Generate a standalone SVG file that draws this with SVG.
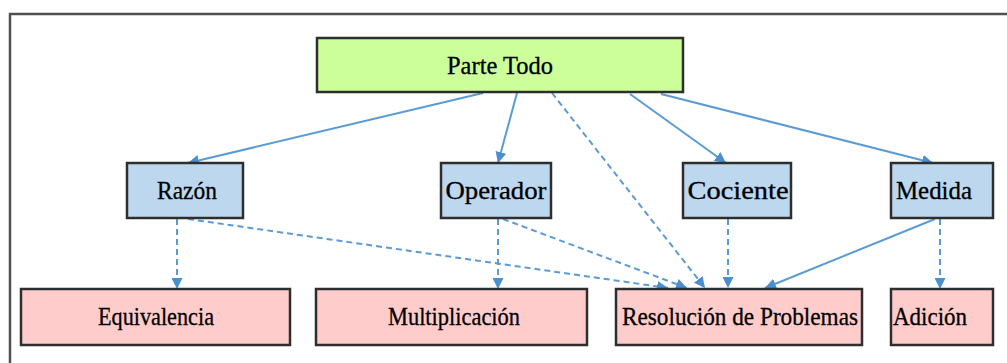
<svg xmlns="http://www.w3.org/2000/svg" width="1007" height="363" viewBox="0 0 1007 363">
  <style>
    .frame { fill: none; stroke: #505050; stroke-width: 2.5; }
    .box { stroke: #2e2e2e; stroke-width: 2.5; }
    .root { fill: #ccff99; }
    .mid { fill: #bdd7ee; }
    .leaf { fill: #ffcccc; }
    .lbl { font-family: 'Liberation Serif', 'Times New Roman', Times, serif; font-size: 25px; fill: #000000; stroke: #000000; stroke-width: 0.3; text-anchor: middle; }
    .edge { fill: none; stroke: #5b9bd5; stroke-width: 2; }
    .dash { stroke-dasharray: 6 4; }
  </style>
  <defs>
    <marker id="arrow" viewBox="0 0 10 10" refX="10" refY="5" markerWidth="11" markerHeight="11" markerUnits="userSpaceOnUse" orient="auto">
      <path d="M0,0 L10,5 L0,10 Z" fill="#4a8fd0"/>
    </marker>
  </defs>

  <!-- outer frame -->
  <rect class="frame" x="10" y="14" width="1010" height="360"/>

  <!-- connectors -->
  <g id="connectors">
    <line class="edge" x1="483" y1="93" x2="188" y2="163" marker-end="url(#arrow)"/>
    <line class="edge" x1="517" y1="93" x2="498" y2="163" marker-end="url(#arrow)"/>
    <line class="edge" x1="630" y1="94" x2="726" y2="163" marker-end="url(#arrow)"/>
    <line class="edge" x1="661" y1="94" x2="933" y2="163" marker-end="url(#arrow)"/>
    <line class="edge dash" x1="552" y1="93" x2="705" y2="288" marker-end="url(#arrow)"/>
    <line class="edge dash" x1="177" y1="219" x2="177" y2="289" marker-end="url(#arrow)"/>
    <line class="edge dash" x1="188" y1="219" x2="668" y2="288" marker-end="url(#arrow)"/>
    <line class="edge dash" x1="498" y1="219" x2="498" y2="289" marker-end="url(#arrow)"/>
    <line class="edge dash" x1="503" y1="219" x2="687" y2="288" marker-end="url(#arrow)"/>
    <line class="edge dash" x1="728" y1="219" x2="728" y2="288" marker-end="url(#arrow)"/>
    <line class="edge" x1="935" y1="219" x2="765" y2="288" marker-end="url(#arrow)"/>
    <line class="edge dash" x1="940" y1="219" x2="940" y2="289" marker-end="url(#arrow)"/>
  </g>

  <g id="parte-todo">
    <rect class="box root" x="317" y="38" width="366" height="54"/>
    <text class="lbl" x="500" y="74" textLength="106" lengthAdjust="spacingAndGlyphs">Parte Todo</text>
  </g>

  <g id="razon">
    <rect class="box mid" x="127" y="163" width="116" height="55"/>
    <text class="lbl" x="187" y="199" textLength="60" lengthAdjust="spacingAndGlyphs">Razón</text>
  </g>
  <g id="operador">
    <rect class="box mid" x="441" y="163" width="110" height="55"/>
    <text class="lbl" x="496" y="199" textLength="101" lengthAdjust="spacingAndGlyphs">Operador</text>
  </g>
  <g id="cociente">
    <rect class="box mid" x="683" y="163" width="108" height="55"/>
    <text class="lbl" x="738" y="199" textLength="101" lengthAdjust="spacingAndGlyphs">Cociente</text>
  </g>
  <g id="medida">
    <rect class="box mid" x="891" y="163" width="102" height="55"/>
    <text class="lbl" x="934" y="199" textLength="76" lengthAdjust="spacingAndGlyphs">Medida</text>
  </g>

  <g id="equivalencia">
    <rect class="box leaf" x="21" y="289" width="269" height="56"/>
    <text class="lbl" x="156" y="325" textLength="116" lengthAdjust="spacingAndGlyphs">Equivalencia</text>
  </g>
  <g id="multiplicacion">
    <rect class="box leaf" x="316" y="289" width="271" height="56"/>
    <text class="lbl" x="454" y="325" textLength="132" lengthAdjust="spacingAndGlyphs">Multiplicación</text>
  </g>
  <g id="resolucion">
    <rect class="box leaf" x="616" y="289" width="246" height="56"/>
    <text class="lbl" x="740" y="325" textLength="236" lengthAdjust="spacingAndGlyphs">Resolución de Problemas</text>
  </g>
  <g id="adicion">
    <rect class="box leaf" x="891" y="289" width="102" height="56"/>
    <text class="lbl" x="930" y="325" textLength="74" lengthAdjust="spacingAndGlyphs">Adición</text>
  </g>
</svg>
